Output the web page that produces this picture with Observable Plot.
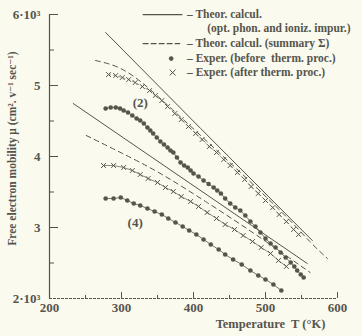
<!DOCTYPE html>
<html>
<head>
<meta charset="utf-8">
<script src="https://cdn.jsdelivr.net/npm/d3@7"></script>
<script src="https://cdn.jsdelivr.net/npm/@observablehq/plot@0.6"></script>
<style>
  html, body { margin: 0; padding: 0; background: #fbfaef; }
  #chart { width: 362px; height: 336px; }
</style>
</head>
<body>
<div id="chart"></div>
<script>
// ---- data (T in °K, mobility in cm²/(V·s)) ----
const theorSolid2T = [278, 410, 565];
const theorSolid2M = [5746, 4394, 2817];
const theorDash2T = [264, 282, 301, 326, 354, 410, 479, 535, 562, 586];
const theorDash2M = [5352, 5310, 5239, 5070, 4817, 4296, 3647, 3098, 2789, 2563];
const theorSolid4T = [233, 419, 558];
const theorSolid4M = [4746, 3457, 2493];
const theorDash4T = [251, 299, 354, 419, 479, 562];
const theorDash4M = [4296, 4056, 3774, 3352, 2958, 2366];

const before2T = [278, 285, 292, 298, 303, 309, 315, 321, 326, 331, 336, 340, 344, 349, 354, 359, 364, 368, 372, 377, 382, 387, 392, 396, 400, 407, 414, 421, 428, 433, 438, 444, 451, 458, 465, 472, 479, 486, 493, 500, 507, 514, 521, 528, 535, 540, 544, 549, 553];
const before2M = [4676, 4690, 4690, 4676, 4648, 4620, 4577, 4535, 4507, 4465, 4408, 4366, 4324, 4268, 4211, 4169, 4127, 4085, 4056, 3986, 3915, 3873, 3845, 3803, 3761, 3718, 3662, 3613, 3563, 3521, 3479, 3408, 3338, 3282, 3239, 3169, 3085, 3014, 2930, 2845, 2775, 2718, 2648, 2578, 2507, 2451, 2394, 2338, 2296];
const after2T = [282, 292, 301, 310, 319, 329, 339, 347, 356, 364, 374, 383, 393, 403, 412, 422, 432, 442, 451, 461, 471, 480, 490, 500, 510, 519, 529, 539, 546];
const after2M = [5154, 5140, 5112, 5084, 5041, 4985, 4929, 4859, 4788, 4704, 4605, 4520, 4422, 4324, 4239, 4140, 4056, 3957, 3873, 3774, 3676, 3577, 3479, 3380, 3281, 3183, 3084, 2972, 2901];
const before4T = [278, 289, 299, 308, 317, 326, 336, 346, 356, 365, 375, 385, 394, 404, 414, 424, 435, 444, 455, 467, 479, 490, 500, 511, 522];
const before4M = [3408, 3408, 3423, 3380, 3338, 3310, 3267, 3225, 3183, 3127, 3070, 3014, 2958, 2901, 2831, 2760, 2690, 2620, 2549, 2479, 2394, 2324, 2268, 2197, 2113];
const after4T = [275, 289, 303, 315, 326, 337, 350, 361, 372, 383, 396, 407, 419, 432, 444, 457, 469, 482, 494, 507, 518, 529];
const after4M = [3873, 3873, 3845, 3803, 3746, 3690, 3633, 3563, 3507, 3436, 3366, 3296, 3211, 3127, 3042, 2972, 2887, 2803, 2718, 2634, 2535, 2451];

const xMajorTicks = [300, 400, 500, 600];
const xMinorTicks = [250, 350, 450, 550];
const xTickLabels = [200, 300, 400, 500, 600];
const yMajorTicks = [3000, 4000, 5000, 6000];
const yMinorTicks = [2500, 3500, 4500, 5500];
const yTickLabels = [2000, 3000, 4000, 5000, 6000];
const yTickText = ["2·10³", "3", "4", "5", "6·10³"];

const curveLabels = [{T: 326, M: 4760, text: "(2)"}, {T: 319, M: 3070, text: "(4)"}];

const legendTexts = [
  {T: 391, M: 5999, text: "– Theor. calcul."},
  {T: 419, M: 5802, text: "(opt. phon. and ioniz. impur.)"},
  {T: 391, M: 5590, text: "– Theor. calcul. (summary Σ)"},
  {T: 391, M: 5379, text: "– Exper. (before  therm. proc.)"},
  {T: 391, M: 5182, text: "– Exper. (after therm. proc.)"}
];
const legendSolid = [{T: 330, M: 5999}, {T: 384, M: 5999}];
const legendDash = [{T: 330, M: 5590}, {T: 381, M: 5590}];
const legendDot = [{T: 369, M: 5379}];
const legendX = [{T: 371, M: 5182}];

const xAxisTitle = "Temperature  T (°K)";
const yAxisTitle = "Free electron mobility μ (cm². v⁻¹ sec⁻¹)";

// ---- build tables ----
const zip = (T, M) => T.map((t, i) => ({T: t, M: M[i]}));
const ink = "#55554d";
const font = "'Liberation Serif', 'DejaVu Serif', serif";

const plot = Plot.plot({
  width: 362,
  height: 336,
  marginLeft: 49,
  marginRight: 25,
  marginTop: 14,
  marginBottom: 38,
  x: {domain: [200, 600], axis: null},
  y: {domain: [2000, 6000], axis: null},
  style: {background: "#fbfaef", fontFamily: font, color: ink, overflow: "visible"},
  marks: [
    // axis lines
    Plot.ruleX([200], {stroke: ink, strokeWidth: 1.2}),
    Plot.ruleY([2000], {stroke: ink, strokeWidth: 1.2, strokeDasharray: "3,1"}),
    // inward ticks
    Plot.tickX(xMajorTicks, {x: d => d, stroke: ink, insetTop: 278}),
    Plot.tickX(xMinorTicks, {x: d => d, stroke: ink, insetTop: 281}),
    Plot.tickY(yMajorTicks, {y: d => d, stroke: ink, insetRight: 279}),
    Plot.tickY(yMinorTicks, {y: d => d, stroke: ink, insetRight: 283}),
    // tick labels
    Plot.text(xTickLabels, {x: d => d, frameAnchor: "bottom", dy: 13, text: d => String(d), fontSize: 13, fontWeight: "bold", fill: ink}),
    Plot.text(yTickLabels, {y: d => d, frameAnchor: "left", dx: -9, textAnchor: "end", text: (d, i) => yTickText[i], fontSize: 13, fontWeight: "bold", fill: ink}),
    // axis titles
    Plot.text([xAxisTitle], {frameAnchor: "bottom", dx: 77, dy: 29, text: d => d, fontSize: 12.5, fontWeight: "bold", fill: ink}),
    Plot.text([yAxisTitle], {frameAnchor: "left", textAnchor: "middle", dx: -37, dy: -8, rotate: -90, text: d => d, fontSize: 11.5, fontWeight: "bold", fill: ink}),
    // theoretical curves
    Plot.line(zip(theorSolid2T, theorSolid2M), {x: "T", y: "M", stroke: ink, strokeWidth: 1}),
    Plot.line(zip(theorDash2T, theorDash2M), {x: "T", y: "M", stroke: ink, strokeWidth: 1, strokeDasharray: "5,4", curve: "basis"}),
    Plot.line(zip(theorSolid4T, theorSolid4M), {x: "T", y: "M", stroke: ink, strokeWidth: 1}),
    Plot.line(zip(theorDash4T, theorDash4M), {x: "T", y: "M", stroke: ink, strokeWidth: 1, strokeDasharray: "5,4", curve: "basis"}),
    // experimental curves
    Plot.line(zip(before2T, before2M), {x: "T", y: "M", stroke: ink, strokeWidth: 0.8}),
    Plot.dot(zip(before2T, before2M), {x: "T", y: "M", r: 2.3, fill: ink, stroke: "none"}),
    Plot.line(zip(before4T, before4M), {x: "T", y: "M", stroke: ink, strokeWidth: 0.8}),
    Plot.dot(zip(before4T, before4M), {x: "T", y: "M", r: 2.3, fill: ink, stroke: "none"}),
    Plot.line(zip(after2T, after2M), {x: "T", y: "M", stroke: ink, strokeWidth: 0.6, strokeDasharray: "2,3"}),
    Plot.dot(zip(after2T, after2M), {x: "T", y: "M", r: 2.3, symbol: "times", stroke: ink, strokeWidth: 1}),
    Plot.line(zip(after4T, after4M), {x: "T", y: "M", stroke: ink, strokeWidth: 0.7}),
    Plot.dot(zip(after4T, after4M), {x: "T", y: "M", r: 2.3, symbol: "times", stroke: ink, strokeWidth: 1}),
    // curve labels
    Plot.text(curveLabels, {x: "T", y: "M", text: "text", fontSize: 13, fontWeight: "bold", fill: ink}),
    // legend
    Plot.line(legendSolid, {x: "T", y: "M", stroke: ink, strokeWidth: 1.2}),
    Plot.line(legendDash, {x: "T", y: "M", stroke: ink, strokeWidth: 1.2, strokeDasharray: "5,3"}),
    Plot.dot(legendDot, {x: "T", y: "M", r: 2.3, fill: ink, stroke: "none"}),
    Plot.dot(legendX, {x: "T", y: "M", r: 2.8, symbol: "times", stroke: ink, strokeWidth: 1}),
    Plot.text(legendTexts, {x: "T", y: "M", text: "text", textAnchor: "start", fontSize: 11.5, fontWeight: "bold", fill: ink})
  ]
});
document.getElementById("chart").appendChild(plot);
</script>
</body>
</html>
